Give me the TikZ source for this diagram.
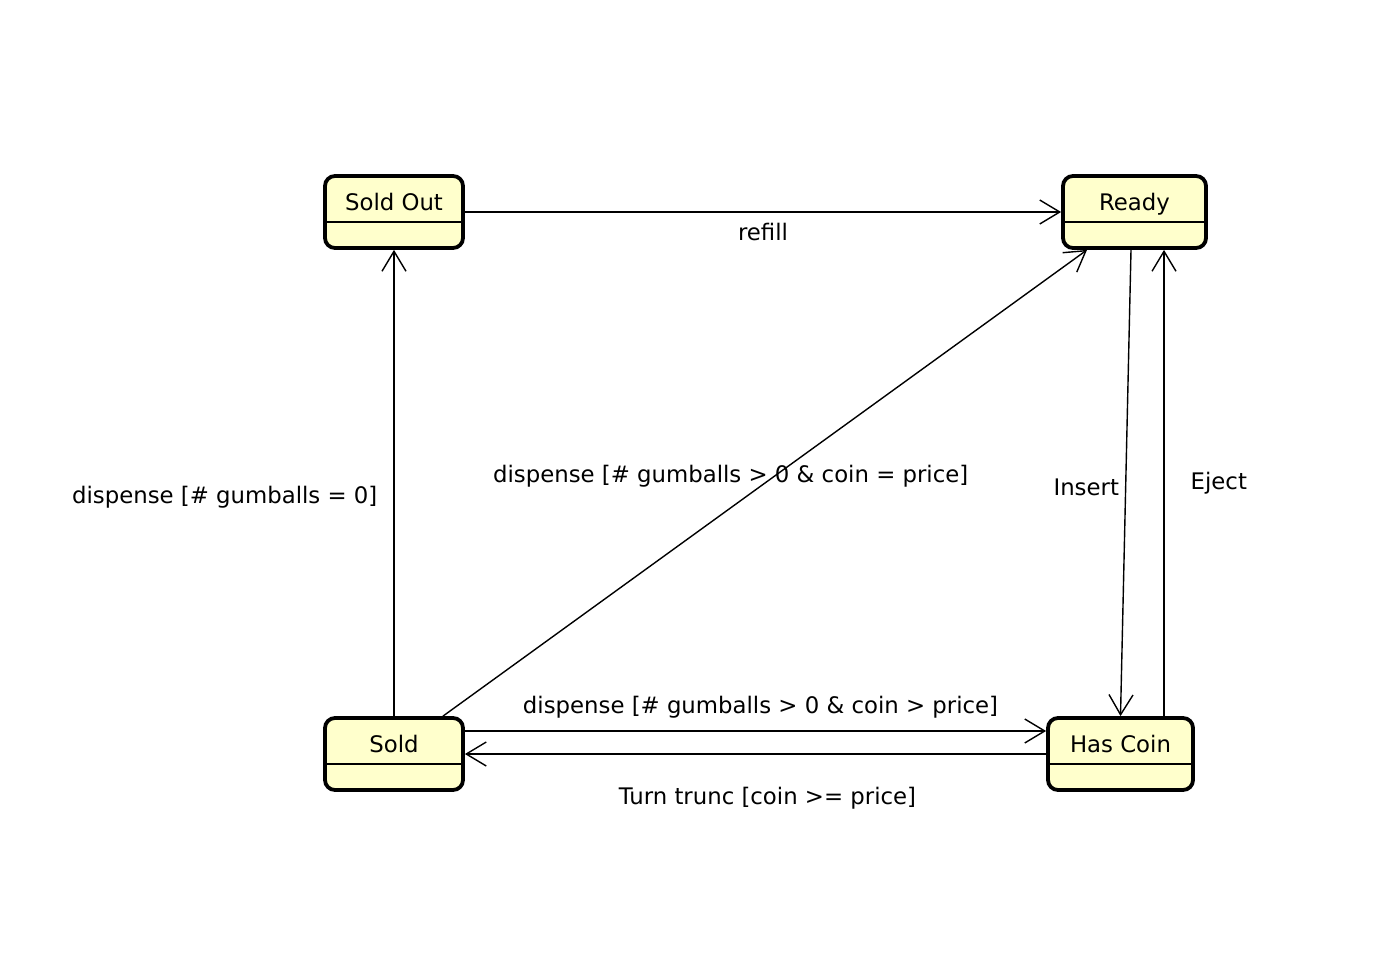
\documentclass[tikz,border=0pt]{standalone}
\usepackage{fontspec}
\setmainfont{DejaVu Sans}
\usepackage{xcolor}
\usepackage{tikz}
\usetikzlibrary{shapes,arrows,arrows.meta,positioning,calc}
\definecolor{statefill}{RGB}{255,255,204}
\tikzset{
  state/.style={draw=black, line width=1.9pt, fill=statefill, rounded corners=5pt,
    minimum width=69pt, inner xsep=0pt, inner ysep=0pt, text height=17.2pt, text depth=18.8pt},
  trans/.style={line width=0.7pt, -{Straight Barb[length=10pt,width=12pt,line width=0.7pt]}},
  lbl/.style={inner sep=3pt}
}

\begin{document}
\begin{tikzpicture}[x=0.5pt,y=-0.5pt,font=\fontsize{11.4}{13.7}\selectfont]
            \useasboundingbox (0,0) rectangle (1380,962);
            % states
            \node[state] (so) at (394,212) {Sold Out};
            \node[state, minimum width=71.5pt] (rd) at (1134.5,212) {Ready};
            \node[state] (sd) at (394,754) {Sold};
            \node[state, minimum width=72.5pt] (hc) at (1120.5,754) {Has Coin};
            \foreach \n in {so,rd,sd,hc}
            \draw[line width=0.8pt] ([yshift=-5pt]\n.west) -- ([yshift=-5pt]\n.east);
            % transitions
            \draw[trans] (so.east) -- node[lbl, midway, below=2pt] {refill} (rd.west);
            \draw[trans] (sd.north) -- node[lbl, pos=0.47, left=5pt] {dispense [\# gumballs = 0]} (so.south);
            \draw[trans] ([xshift=24.5pt]sd.north) -- node[lbl, pos=0.515, xshift=-22pt] {dispense [\# gumballs > 0 \& coin = price]} ([xshift=-23.75pt]rd.south);
            \draw[trans] ([xshift=-1.75pt]rd.south) -- node[lbl, pos=0.51, left=0pt] {Insert} (hc.north);
            \draw[trans] ([xshift=21.75pt]hc.north) -- node[lbl, pos=0.5, right=10pt] {Eject} ([xshift=14.75pt]rd.south);
            \draw[trans] ([yshift=11.5pt]sd.east) -- node[lbl, midway, above=3pt, xshift=2.5pt] {dispense [\# gumballs > 0 \& coin > price]} ([yshift=11.5pt]hc.west);
            \draw[trans] (hc.west) -- node[lbl, midway, below=13pt, xshift=6pt] {Turn trunc [coin >= price]} (sd.east);
        \end{tikzpicture}
\end{document}
